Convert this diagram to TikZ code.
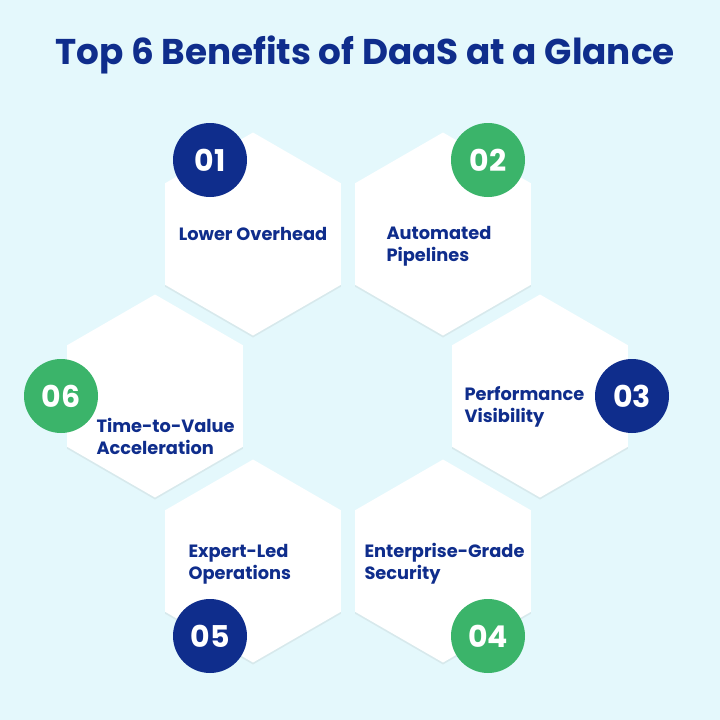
\documentclass[tikz,border=0pt]{standalone}
\usepackage{fontspec}
\setmainfont{Poppins}
\usetikzlibrary{shapes.geometric,shadows}
\definecolor{mybg}{HTML}{E4F8FC}
\definecolor{myblue}{HTML}{0F2D8C}
\definecolor{mygreen}{HTML}{3BB46A}

\tikzset{
  hexa/.style={regular polygon, regular polygon sides=6, shape border rotate=30,
    minimum size=203pt, inner sep=0pt, outer sep=0pt, fill=white,
    drop shadow={shadow xshift=0pt, shadow yshift=-2pt, opacity=0.12}},
  badge/.style={circle, minimum size=74pt, inner sep=0pt, text=white,
    font=\fontsize{30}{30}\selectfont\bfseries},
  label/.style={anchor=west, align=left, text=myblue,
    font=\fontsize{17.8}{22}\selectfont\bfseries}
}

\begin{document}
\begin{tikzpicture}[x=1pt, y=-1pt]
    % Background
    \fill[mybg] (0,0) rectangle (720,720);
    \useasboundingbox (0,0) rectangle (720,720);

    % Title
    \node[text=myblue, font=\fontsize{35.8}{36}\selectfont\bfseries] (title) at (365,55) {Top 6 Benefits of DaaS at a Glance};

    % Hexagons
    \node[hexa] (h1) at (253,234) {};
    \node[hexa] (h2) at (443,234) {};
    \node[hexa] (h3) at (540,396) {};
    \node[hexa] (h4) at (443,561) {};
    \node[hexa] (h5) at (253,561) {};
    \node[hexa] (h6) at (155,396) {};

    % Labels
    \node[text=myblue, font=\fontsize{17.8}{22}\selectfont\bfseries] (t1) at (h1) {Lower Overhead};
    \node[label] (t2) at (383,246) {Automated\\Pipelines};
    \node[label] (t3) at (461,407) {Performance\\Visibility};
    \node[label] (t6) at (93,436) {Time-to-Value\\Acceleration};
    \node[label] (t5) at (185,564) {Expert-Led\\Operations};
    \node[label] (t4) at (361,564) {Enterprise-Grade\\Security};

    % Number badges
    \node[badge, fill=myblue] (b1) at (210,160) {01};
    \node[badge, fill=mygreen] (b2) at (488,160) {02};
    \node[badge, fill=myblue] (b3) at (632,396) {03};
    \node[badge, fill=mygreen] (b4) at (488,636) {04};
    \node[badge, fill=myblue] (b5) at (210,636) {05};
    \node[badge, fill=mygreen] (b6) at (61,396) {06};
\end{tikzpicture}
\end{document}
